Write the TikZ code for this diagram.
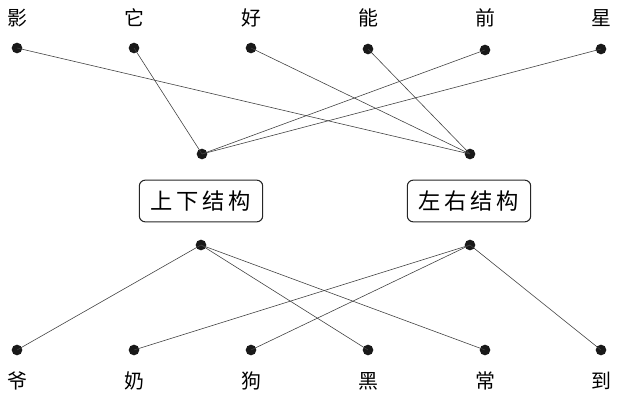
\documentclass[tikz,border=0pt]{standalone}
\usepackage{fontspec}
\newfontfamily\cjk{Noto Sans CJK SC}
\usetikzlibrary{positioning}

\begin{document}
\begin{tikzpicture}[
    x=0.03cm, y=-0.03cm,
    % Global styles
    font=\cjk\fontsize{17}{20}\selectfont,
    % Dot and box styles
    dot/.style={circle, fill=black!90, inner sep=0pt, minimum size=0.32cm},
    groupbox/.style={
      rectangle, rounded corners=5pt, draw=black!85, line width=0.9pt,
      minimum width=3.7cm, minimum height=1.25cm, align=center,
      font=\cjk\fontsize{19}{22}\selectfont
    },
    charlabel/.style={inner sep=0pt},
    link/.style={black!75, line width=0.5pt},
  ]
  \useasboundingbox (0,0) rectangle (626,401);

  % ====================================================================
  % TOP ROW
  % ====================================================================
  \node[dot] (t1) at (17,48) {};
  \node[dot] (t2) at (134,48) {};
  \node[dot] (t3) at (251,48) {};
  \node[dot] (t4) at (368,49) {};
  \node[dot] (t5) at (485,50) {};
  \node[dot] (t6) at (601,49) {};

  \node[charlabel] at (17,18) {影};
  \node[charlabel] at (134,18) {它};
  \node[charlabel] at (251,18) {好};
  \node[charlabel] at (368,18) {能};
  \node[charlabel] at (485,18) {前};
  \node[charlabel] at (601,18) {星};

  % ====================================================================
  % MIDDLE — two structure groups
  % ====================================================================
  \node[dot] (ua) at (202,154) {};
  \node[dot] (ub) at (470,154) {};

  \node[groupbox] (tb) at (201,201) {上\,下\,结\,构};
  \node[groupbox] (lr) at (469,201) {左\,右\,结\,构};

  \node[dot] (la) at (201,245) {};
  \node[dot] (lb) at (470,245) {};

  % ====================================================================
  % BOTTOM ROW
  % ====================================================================
  \node[dot] (b1) at (17,350) {};
  \node[dot] (b2) at (134,350) {};
  \node[dot] (b3) at (251,350) {};
  \node[dot] (b4) at (368,350) {};
  \node[dot] (b5) at (485,350) {};
  \node[dot] (b6) at (601,350) {};

  \node[charlabel] at (17,381) {爷};
  \node[charlabel] at (134,381) {奶};
  \node[charlabel] at (251,381) {狗};
  \node[charlabel] at (368,381) {黑};
  \node[charlabel] at (485,381) {常};
  \node[charlabel] at (601,381) {到};

  % ------- Links -------
  \draw[link] (t2.center) -- (ua.center);
  \draw[link] (t5.center) -- (ua.center);
  \draw[link] (t6.center) -- (ua.center);

  \draw[link] (t1.center) -- (ub.center);
  \draw[link] (t3.center) -- (ub.center);
  \draw[link] (t4.center) -- (ub.center);

  \draw[link] (la.center) -- (b1.center);
  \draw[link] (la.center) -- (b4.center);
  \draw[link] (la.center) -- (b5.center);

  \draw[link] (lb.center) -- (b2.center);
  \draw[link] (lb.center) -- (b3.center);
  \draw[link] (lb.center) -- (b6.center);

\end{tikzpicture}
\end{document}
